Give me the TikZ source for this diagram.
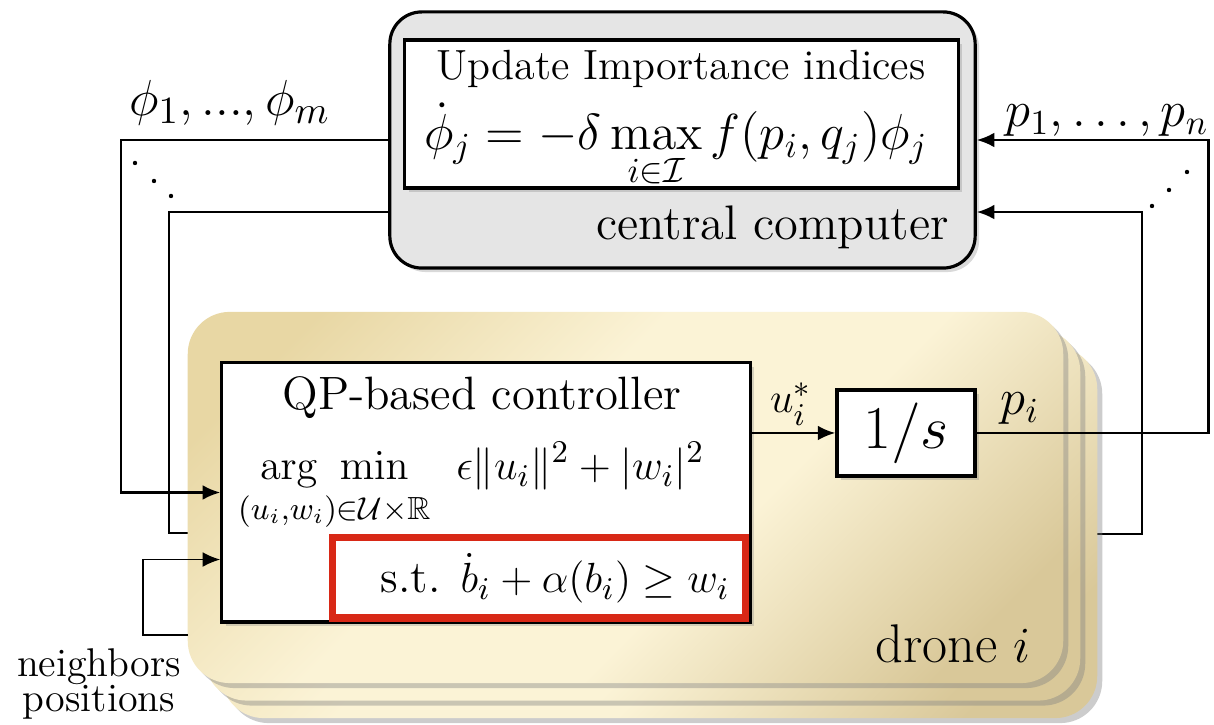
\documentclass[tikz,border=0pt]{standalone}
\usepackage{amsmath,amssymb}
\usetikzlibrary{arrows.meta,shadows}
\definecolor{ccgray}{RGB}{229,229,229}
\definecolor{dronetan}{RGB}{232,215,164}
\definecolor{dronecream}{RGB}{251,243,214}
\definecolor{dronedark}{RGB}{217,200,153}
\definecolor{stred}{RGB}{216,40,22}
\pgfdeclareverticalshading{dronefill}{100bp}{color(0bp)=(dronedark); color(22bp)=(dronedark);
    color(42bp)=(dronecream); color(58bp)=(dronecream); color(78bp)=(dronetan); color(100bp)=(dronetan)}
\newcommand{\setfs}[1]{\fontsize{#1}{#1}\selectfont}
\begin{document}
\begin{tikzpicture}[
                x=0.01cm, y=-0.01cm,
                line width=0.7pt,
                arr/.style={-{Latex[length=5pt,width=4.2pt]}},
                box/.style={draw, line width=0.9pt, fill=white,
                    drop shadow={opacity=0.3, shadow xshift=0.04cm, shadow yshift=-0.04cm}},
                dronebox/.style={rounded corners=0.42cm, minimum width=8.75cm, minimum height=3.71cm,
                    shading=dronefill, shading angle=45,
                    drop shadow={opacity=0.4, shadow xshift=0.05cm, shadow yshift=-0.05cm}},
                lbl/.style={inner sep=0pt}
            ]
            \useasboundingbox (0,0) rectangle (1214,725);

            \node[box, fill=ccgray, rounded corners=0.32cm, minimum width=5.85cm, minimum height=2.56cm] (cc) at (682.5,140) {};
            \node[box, minimum width=5.53cm, minimum height=1.48cm] (upd) at (681.5,114) {};
            \node[lbl, anchor=base] (updtitle) at (681,80) {\setfs{12}Update Importance indices};
            \node[lbl, anchor=base] (updeq) at (676,150) {\setfs{14}$\displaystyle \dot{\phi}_j = -\delta \max_{i\in\mathcal{I}} f(p_i,q_j)\phi_j$};
            \node[lbl, anchor=base east] (cclabel) at (950,240) {\setfs{13.8}central computer};

            \coordinate (lback) at (200,533);
            \coordinate (rback) at (1090,534);
            \draw ([yshift=-0.72cm]cc.west) -| (169,533) -- (lback);
            \draw[arr] (rback) -- (1142,534) |- ([yshift=-0.72cm]cc.east);

            \node[dronebox] (drone3) at (659.5,532.5) {};
            \node[dronebox] (drone2) at (642.5,515) {};
            \node[dronebox] (drone) at (625.5,497.5) {};
            \node[lbl, anchor=base east] (dronelabel) at (1032,663) {\setfs{15.5}drone $i$};

            \node[box, minimum width=5.28cm, minimum height=2.59cm] (ctrl) at (486,492.5) {};
            \node[lbl, anchor=base] (ctrltitle) at (482,410) {\setfs{13.3}QP-based controller};
            \node[lbl, anchor=base west] (ctrlcost) at (237,480) {\setfs{13}$\displaystyle\mathop{\mathrm{arg\ \,min}}_{(u_i,w_i)\in\mathcal{U}\times\mathbb{R}}\;\, \epsilon\|u_i\|^2+|w_i|^2$};
            \node[draw=stred, line width=2pt, fill=white, minimum width=4.12cm, minimum height=0.8cm] (cbfbox) at (539,578) {};
            \node[lbl, anchor=base east] (cbf) at (731,593) {\setfs{13}s.t. $\dot{b}_i+\alpha(b_i)\geq w_i$};

            \node[box, minimum width=1.38cm, minimum height=0.86cm, inner sep=0pt] (integ) at (906,433) {\setfs{16}$1/s$};
            \node[lbl, anchor=base] (ustar) at (791,413) {\setfs{13}$u_i^*$};
            \node[lbl, anchor=base] (plabel) at (1020,415) {\setfs{14}$p_i$};

            \draw[arr] (ctrl.east |- integ.west) -- (integ.west);
            \draw[arr] (integ.east) -- ++(232,0) |- (cc.east);
            \draw[arr] (cc.west) -- ++(-267,0) |- (ctrl.west);

            \coordinate (nbr) at (188,635);
            \draw[arr, line width=0.5pt] (nbr) -- ++(-45,0) |- ([yshift=-0.67cm]ctrl.west);
            \node[lbl, anchor=base] (nbrlabel) at (99,677) {\setfs{11.4}neighbors};
            \node[lbl, anchor=base] (poslabel) at (99,712) {\setfs{11.4}positions};

            \node[lbl, anchor=base west] (philabel) at (128,116) {\setfs{15}$\phi_1, ..., \phi_m$};
            \node[lbl, anchor=base east] (plist) at (1210,127) {\setfs{14}$p_1,\ldots,p_n$};
            \foreach \x/\y in {135/163,154/181,171/196} \fill (\x,\y) circle (0.022cm);
            \foreach \x/\y in {1152/206,1169/190,1187/172} \fill (\x,\y) circle (0.022cm);

        \end{tikzpicture}
\end{document}
